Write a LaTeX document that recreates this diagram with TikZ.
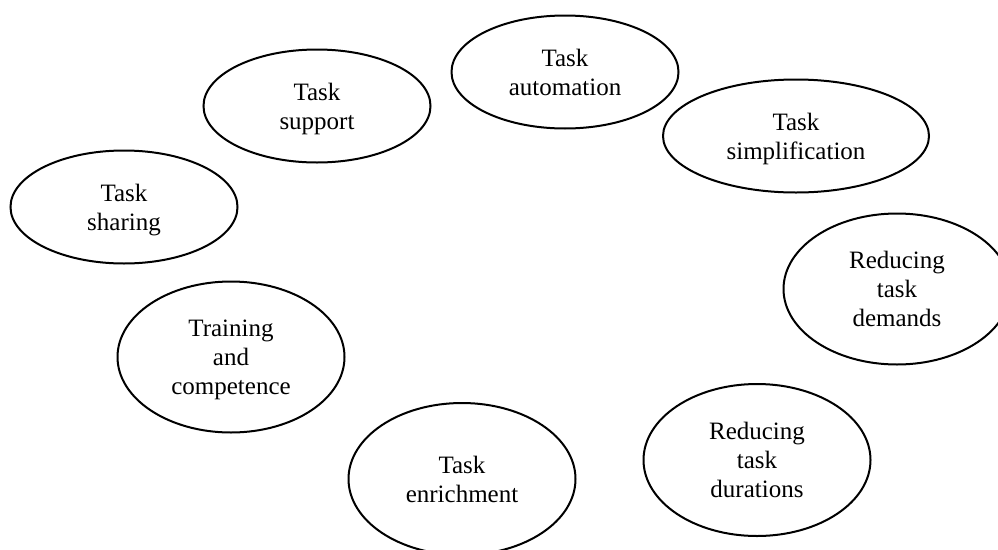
\documentclass[tikz,border=0pt]{standalone}
\usepackage{fontspec}
\setmainfont{Liberation Serif}
\usetikzlibrary{shapes.geometric}
\tikzset{aim/.style={ellipse,draw,line width=2pt,inner sep=0pt,align=center,
    minimum width=227pt,text depth=-5pt,font=\fontsize{25}{29}\selectfont}}

\begin{document}
\begin{tikzpicture}[x=1pt,y=-1pt]
		\useasboundingbox (0,0) rectangle (998,549);
		\clip (0,0) rectangle (998,549);
		
		\node[aim,minimum height=113pt](support) at (317,106) {Task\\support};
		\node[aim,minimum height=113pt](sharing) at (124,207) {Task\\sharing};
		\node[aim,minimum height=113pt](automation) at (565,72) {Task\\automation};
		\node[aim,minimum height=113pt,minimum width=266pt](simplification) at (796,136) {Task\\simplification};
		
		\node[aim,minimum height=151pt](demands) at (897,289) {Reducing\\task\\demands};
		\node[aim,minimum height=151pt](training) at (231,357) {Training\\and\\competence};
		\node[aim,minimum height=152pt](durations) at (757,460) {Reducing\\task\\durations};
		\node[aim,minimum height=152pt](enrichment) at (462,479) {Task\\enrichment};
	\end{tikzpicture}
\end{document}
